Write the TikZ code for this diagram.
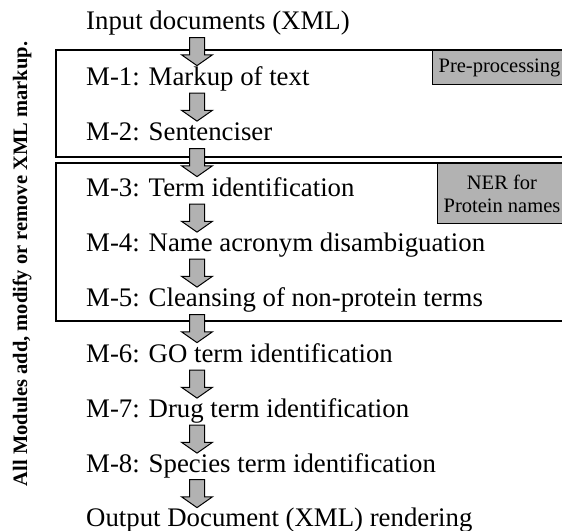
\documentclass[tikz,border=0pt]{standalone}
\usepackage{fontspec}
\setmainfont{Liberation Serif}
\usetikzlibrary{shapes.arrows,calc}

\begin{document}
\begin{tikzpicture}[x=1pt, y=-1pt,
                    module/.style={anchor=base west, inner sep=0pt, font=\fontsize{26.8}{30}\selectfont},
                    frame/.style={draw, line width=1.2pt},
                    tag box/.style={draw, line width=1.2pt, fill=black!30, anchor=north west,
                                    align=center, inner xsep=6pt, font=\fontsize{20.5}{23}\selectfont},
                    flow arrow/.style={single arrow, draw, line width=1pt, fill=black!30, rotate=-90,
                                       minimum height=28pt, inner sep=7pt, single arrow head extend=8pt,
                                       single arrow tip angle=110}]

  \useasboundingbox (0,0) rectangle (562,530);

  \node[module] (in)  at (86,29)  {Input documents (XML)};
  \node[module] (m1)  at (86,85)  {M-1: Markup of text};
  \node[module] (m2)  at (86,140) {M-2: Sentenciser};
  \node[module] (m3)  at (86,196) {M-3: Term identification};
  \node[module] (m4)  at (86,251) {M-4: Name acronym disambiguation};
  \node[module] (m5)  at (86,306) {M-5: Cleansing of non-protein terms};
  \node[module] (m6)  at (86,362) {M-6: GO term identification};
  \node[module] (m7)  at (86,417) {M-7: Drug term identification};
  \node[module] (m8)  at (86,472) {M-8: Species term identification};
  \node[module] (out) at (86,526) {Output Document (XML) rendering};

  % stage boxes
  \draw[frame] (56,50) rectangle (570,157);
  \draw[frame] (56,163) rectangle (570,321);
  \node[tag box, minimum height=34pt] (pre) at (432,50) {Pre-processing};
  \node[tag box, minimum height=60pt] (ner) at (437,163) {NER for\\Protein names};

  % flow between modules
  \foreach \a/\b in {in/m1, m1/m2, m2/m3, m3/m4, m4/m5, m5/m6, m6/m7, m7/m8, m8/out}
    \node[flow arrow] (arr-\a) at ($(\a.base west)!0.5!(\b.base west)+(111,-8)$) {};

  \node[rotate=90, font=\bfseries\fontsize{20.5}{24}\selectfont] (note) at (22,264)
    {All Modules add, modify or remove XML markup.};

\end{tikzpicture}
\end{document}
